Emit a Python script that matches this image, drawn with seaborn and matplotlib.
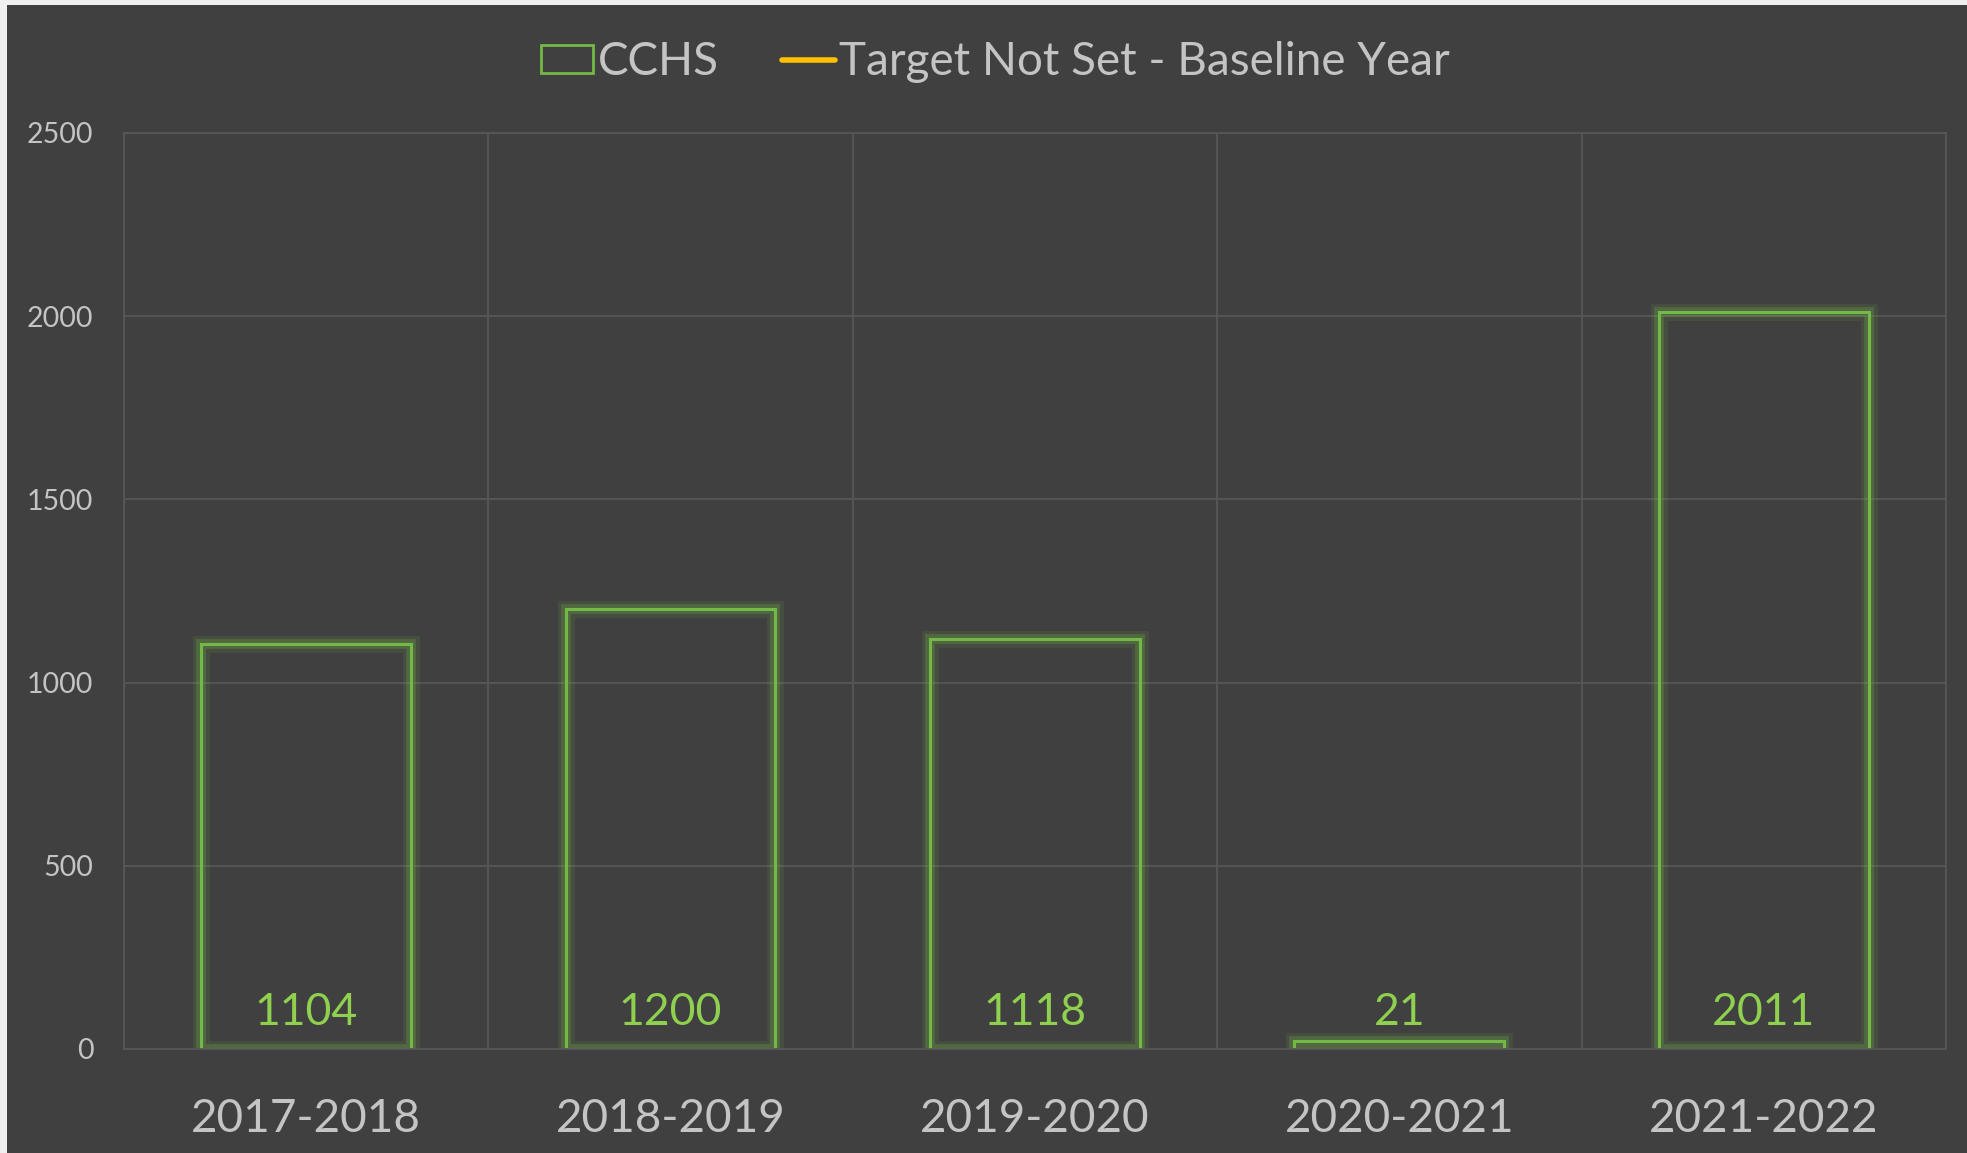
import numpy as np
import pandas as pd
import seaborn as sns
import matplotlib.pyplot as plt
from matplotlib import patheffects as pe
from matplotlib.patches import Rectangle, Patch
from matplotlib.lines import Line2D

# data
years = ['2017-2018', '2018-2019', '2019-2020', '2020-2021', '2021-2022']
cchs = [1104, 1200, 1118, 21, 2011]
yticks = [0, 500, 1000, 1500, 2000, 2500]

bg = '#404040'
gridc = '#575757'
tickc = '#c4c4c4'
edge_green = '#74B947'
text_green = '#8FD14F'
orange = '#FFC000'

sns.set_style('dark')
plt.rcParams['font.family'] = ['Lato', 'DejaVu Sans']

fig = plt.figure(figsize=(19.67, 11.53), dpi=100, facecolor='#efefef')
fig.patches.append(Rectangle((7 / 1967, 0), 1, 1 - 5 / 1153, transform=fig.transFigure,
                             facecolor=bg, edgecolor='none', zorder=-10))
ax = fig.add_axes([0.063, 0.0902, 0.9263, 0.7945])
ax.set_facecolor(bg)

df = pd.DataFrame({'year': years, 'CCHS': cchs})
sns.barplot(data=df, x='year', y='CCHS', ax=ax, fill=False, color=edge_green,
            linewidth=2.2, width=0.576, errorbar=None)

for p in ax.patches:
    p.set_path_effects([pe.Stroke(linewidth=12, foreground=edge_green, alpha=0.12),
                        pe.Stroke(linewidth=7, foreground=edge_green, alpha=0.25),
                        pe.Normal()])

for i, v in enumerate(cchs):
    ax.annotate(str(v), (i, 0), xytext=(0, 17.5), textcoords='offset points',
                ha='center', va='baseline', fontsize=32, color=text_green)

ax.set_xlim(-0.5, 4.5)
ax.set_ylim(0, 2500)
ax.set_yticks(yticks)
ax.set_xticks(np.arange(-0.5, 5, 1), minor=True)
ax.set_axisbelow(True)
ax.yaxis.grid(True, color=gridc, lw=1.3)
ax.xaxis.grid(True, which='minor', color=gridc, lw=1.3)
ax.xaxis.grid(False, which='major')
for s in ax.spines.values():
    s.set_visible(True)
    s.set_color(gridc)
    s.set_linewidth(1.3)

ax.tick_params(axis='x', which='both', length=0, pad=35, labelsize=33, colors=tickc)
ax.tick_params(axis='y', length=0, pad=22, labelsize=20.5, colors=tickc)
ax.set_xlabel('')
ax.set_ylabel('')

handles = [Patch(facecolor='none', edgecolor=edge_green, lw=2),
           Line2D([], [], color=orange, lw=4)]
fig.legend(handles, ['CCHS', 'Target Not Set - Baseline Year'], loc='center',
           bbox_to_anchor=(0.506, 0.946), ncol=2, frameon=False, fontsize=33,
           labelcolor=tickc, handlelength=1.15, handleheight=0.57,
           handletextpad=0.1, columnspacing=1.37)

fig.savefig('out.png', dpi=100, facecolor=fig.get_facecolor())
